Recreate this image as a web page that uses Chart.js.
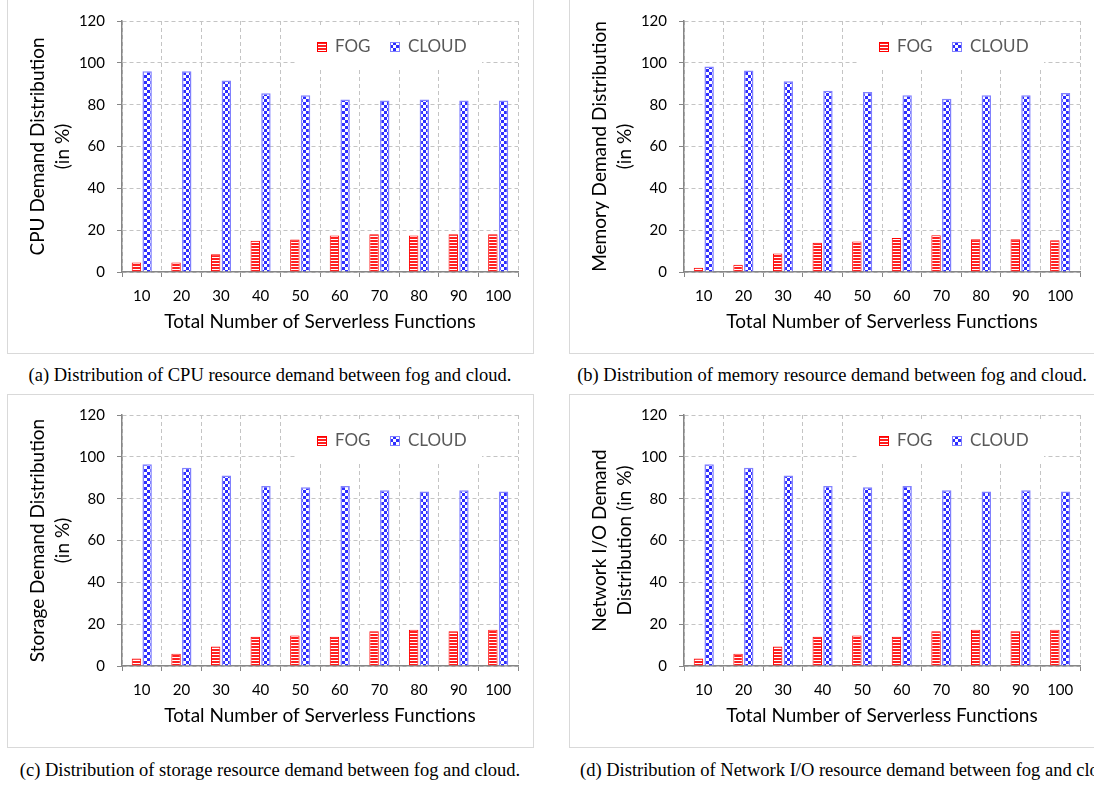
<!DOCTYPE html>
<html>
<head>
<meta charset="utf-8">
<script src="https://cdn.jsdelivr.net/npm/chart.js@4.4.1/dist/chart.umd.min.js"></script>
<style>
  body { margin: 0; width: 1094px; height: 787px; overflow: hidden; background: #fff; position: relative; }
  .panel { position: absolute; width: 527px; border: 1px solid #d9d9d9; box-sizing: border-box; }
  canvas { position: absolute; }
  .cap { position: absolute; font-family: "Liberation Serif", "Times New Roman", serif; font-size: 18.5px; line-height: 22px; white-space: nowrap; color: #000; }
</style>
</head>
<body>
<div class="panel" style="left:7px; top:-1px; height:355px"></div>
<div class="panel" style="left:569px; top:-1px; height:355px"></div>
<div class="panel" style="left:7px; top:394px; height:354px"></div>
<div class="panel" style="left:569px; top:394px; height:354px"></div>

<canvas id="cpuChart" width="540" height="353" style="left:0; top:0"></canvas>
<canvas id="memChart" width="540" height="353" style="left:562px; top:0"></canvas>
<canvas id="storageChart" width="540" height="353" style="left:0; top:394px"></canvas>
<canvas id="netChart" width="540" height="353" style="left:562px; top:394px"></canvas>

<div class="cap" style="left:0; top:364px; width:540px; text-align:center">(a) Distribution of CPU resource demand between fog and cloud.</div>
<div class="cap" style="left:562px; top:364px; width:540px; text-align:center">(b) Distribution of memory resource demand between fog and cloud.</div>
<div class="cap" style="left:0; top:759px; width:540px; text-align:center">(c) Distribution of storage resource demand between fog and cloud.</div>
<div class="cap" style="left:580px; top:759px">(d) Distribution of Network I/O resource demand between fog and cloud.</div>

<script>
// x categories: total number of serverless functions
const categories = ['10', '20', '30', '40', '50', '60', '70', '80', '90', '100'];

// (a) CPU
const cpuFog = [4.5, 4.5, 8.5, 15, 15.5, 17.5, 18, 17.5, 18, 18];
const cpuCloud = [96, 96, 91.5, 85.5, 84.5, 82.5, 82, 82.5, 82, 82];
// (b) memory
const memFog = [2, 3.5, 8.8, 14, 14.6, 16.2, 17.6, 15.7, 15.7, 15.2];
const memCloud = [98.3, 96.3, 91.2, 86.6, 86.1, 84.5, 82.8, 84.5, 84.5, 85.6];
// (c) storage
const storageFog = [3.6, 5.9, 9.3, 14, 14.6, 14, 16.6, 17.3, 16.6, 17.3];
const storageCloud = [96.4, 94.8, 91.1, 86, 85.4, 86, 84, 83.4, 84, 83.4];
// (d) network I/O
const netFog = [3.6, 5.9, 9.3, 14, 14.6, 14, 16.6, 17.3, 16.6, 17.3];
const netCloud = [96.4, 94.8, 91.1, 86, 85.4, 86, 84, 83.4, 84, 83.4];

const yMin = 0, yMax = 120, yStep = 20;

// bar fills: red horizontal stripes / blue checkerboard
function makeStripes() {
    const c = document.createElement('canvas');
    c.width = 4; c.height = 3;
    const x = c.getContext('2d');
    x.fillStyle = '#ffffff'; x.fillRect(0, 0, 4, 3);
    x.fillStyle = '#ff2020'; x.fillRect(0, 0, 4, 2);
    return x.createPattern(c, 'repeat');
}
function makeChecker() {
    const c = document.createElement('canvas');
    c.width = 6; c.height = 6;
    const x = c.getContext('2d');
    x.fillStyle = '#2e2eff'; x.fillRect(0, 0, 6, 6);
    x.fillStyle = '#ffffff';
    x.fillRect(0, 0, 3, 3);
    x.fillRect(3, 3, 3, 3);
    return x.createPattern(c, 'repeat');
}
const fogFill = makeStripes();
const cloudFill = makeChecker();

// legend drawn inside the plot, on a white patch
const legendBox = {
    id: 'legendBox',
    beforeDatasetsDraw(chart) {
        const ctx = chart.ctx, a = chart.chartArea;
        const keyX = [a.left + 195, a.left + 268];
        ctx.save();
        ctx.fillStyle = '#ffffff';
        ctx.fillRect(a.left + 174, a.top + 6, 186, 40);
        ctx.font = '17px Lato';
        ctx.textBaseline = 'middle';
        chart.data.datasets.forEach((ds, i) => {
            ctx.fillStyle = ds.backgroundColor;
            ctx.fillRect(keyX[i], a.top + 21, 10, 10);
            ctx.strokeStyle = ds.borderColor;
            ctx.lineWidth = 1;
            ctx.strokeRect(keyX[i] + 0.5, a.top + 21.5, 9, 9);
            ctx.fillStyle = '#595959';
            ctx.fillText(ds.label, keyX[i] + 18, a.top + 26);
        });
        ctx.restore();
    }
};

function drawPanel(id, yTitle, fogValues, cloudValues) {
    new Chart(document.getElementById(id), {
        type: 'bar',
        data: {
            labels: categories,
            datasets: [
                { label: 'FOG', data: fogValues, backgroundColor: fogFill, borderColor: '#ff0000', borderWidth: 1 },
                { label: 'CLOUD', data: cloudValues, backgroundColor: cloudFill, borderColor: '#8080ff', borderWidth: 1.5 }
            ]
        },
        options: {
            responsive: false,
            animation: false,
            devicePixelRatio: 1,
            layout: { padding: { top: 17, right: 22, bottom: 1, left: 0 } },
            datasets: { bar: { categoryPercentage: 0.54, barPercentage: 0.88 } },
            plugins: { legend: { display: false }, tooltip: { enabled: false } },
            scales: {
                x: {
                    grid: { color: '#c4c4c4', tickColor: '#868686', tickLength: 5, offset: true },
                    border: { color: '#868686', width: 1.5, dash: [4, 3] },
                    ticks: { color: '#000', font: { family: 'Lato', size: 15 }, padding: 10 },
                    title: {
                        display: true, text: 'Total Number of Serverless Functions', color: '#000',
                        font: { family: 'Lato', size: 19 }, padding: { top: 0, bottom: 19 }
                    },
                    afterFit: s => { s.height = 80; }
                },
                y: {
                    min: yMin, max: yMax,
                    grid: { color: '#c4c4c4', tickColor: '#868686', tickLength: 5 },
                    border: { color: '#868686', width: 1.5, dash: [4, 3] },
                    ticks: { stepSize: yStep, color: '#000', font: { family: 'Lato', size: 15 }, padding: 12 },
                    title: {
                        display: true, text: yTitle, color: '#000',
                        font: { family: 'Lato', size: 19, lineHeight: 1.3 }, padding: { top: 25.6, bottom: 0 }
                    },
                    afterFit: s => { s.width = 122; }
                }
            }
        },
        plugins: [legendBox]
    });
}

drawPanel('cpuChart', ['CPU Demand Distribution', '(in %)'], cpuFog, cpuCloud);
drawPanel('memChart', ['Memory Demand Distribution', '(in %)'], memFog, memCloud);
drawPanel('storageChart', ['Storage Demand Distribution', '(in %)'], storageFog, storageCloud);
drawPanel('netChart', ['Network I/O Demand', 'Distribution (in %)'], netFog, netCloud);
</script>
</body>
</html>
